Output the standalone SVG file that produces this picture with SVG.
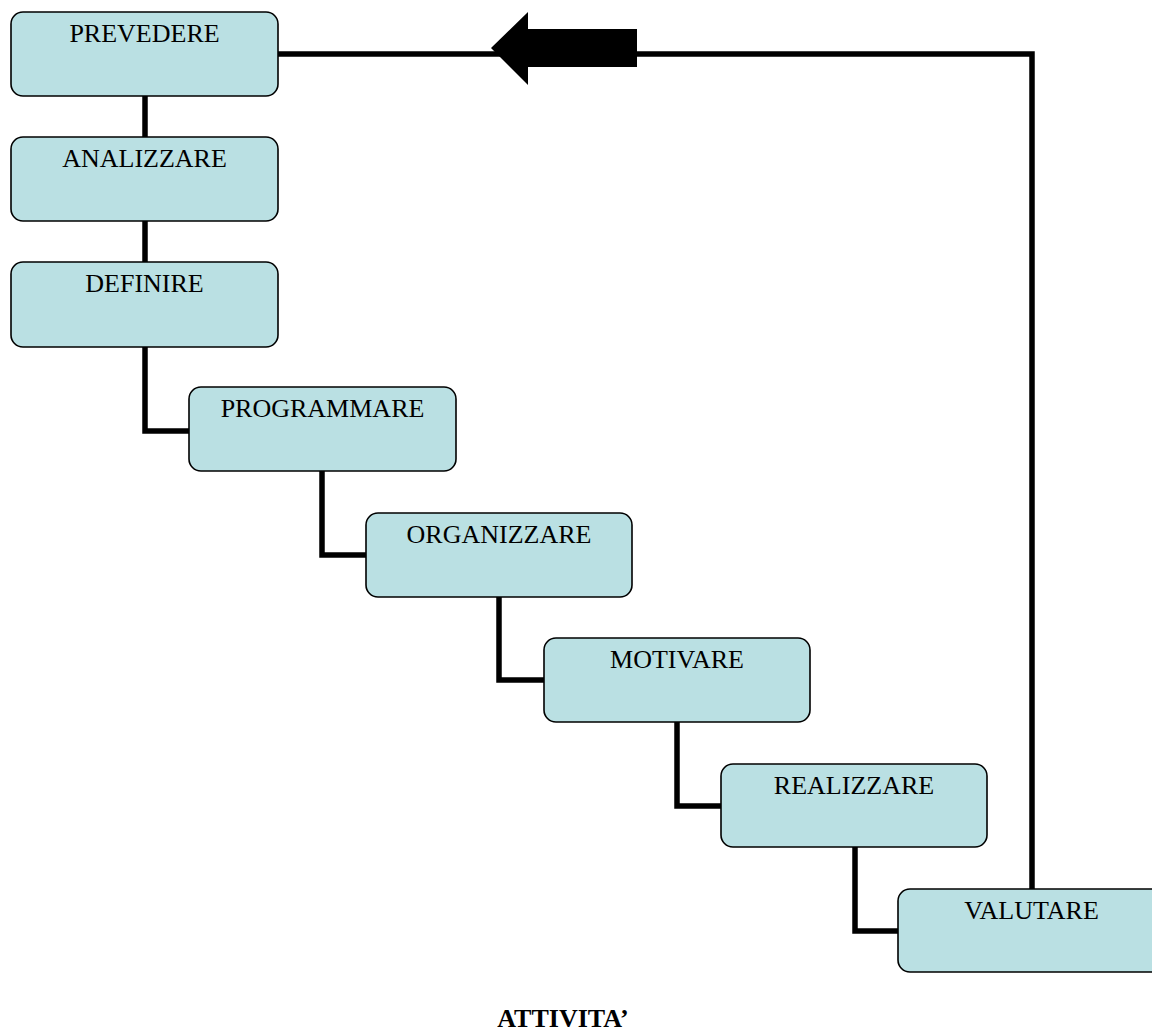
<svg xmlns="http://www.w3.org/2000/svg" width="1152" height="1031" viewBox="0 0 1152 1031">
<style>
.box{fill:#bae0e3;stroke:#000;stroke-width:1.6}
.lbl{font-family:"Liberation Serif","Times New Roman",serif;font-size:26px;fill:#000;text-anchor:middle}
.con{fill:none;stroke:#000;stroke-width:5.5;stroke-linejoin:miter}
.title{font-family:"Liberation Serif","Times New Roman",serif;font-size:26px;font-weight:bold;fill:#000;text-anchor:middle}
</style>
<rect width="1152" height="1031" fill="#fff"/>
<g id="connectors">
<path class="con" d="M145,96 V137"/>
<path class="con" d="M145,221 V262"/>
<path class="con" d="M145,347 V431 H189"/>
<path class="con" d="M322,471 V555 H366"/>
<path class="con" d="M499,597 V680 H544"/>
<path class="con" d="M677,722 V806 H721"/>
<path class="con" d="M855,847 V931 H898"/>
<path class="con" d="M1032,889 V54 H278"/>
<polygon points="491,48 528,12 528,29 637,29 637,67 528,67 528,85" fill="#000"/>
</g>
<g id="n1"><rect class="box" x="11" y="12" width="267" height="84" rx="12"/><text class="lbl" x="144.5" y="42">PREVEDERE</text></g>
<g id="n2"><rect class="box" x="11" y="137" width="267" height="84" rx="12"/><text class="lbl" x="144.5" y="167">ANALIZZARE</text></g>
<g id="n3"><rect class="box" x="11" y="262" width="267" height="85" rx="12"/><text class="lbl" x="144.5" y="292">DEFINIRE</text></g>
<g id="n4"><rect class="box" x="189" y="387" width="267" height="84" rx="12"/><text class="lbl" x="322.5" y="417">PROGRAMMARE</text></g>
<g id="n5"><rect class="box" x="366" y="513" width="266" height="84" rx="12"/><text class="lbl" x="499" y="543">ORGANIZZARE</text></g>
<g id="n6"><rect class="box" x="544" y="638" width="266" height="84" rx="12"/><text class="lbl" x="677" y="668">MOTIVARE</text></g>
<g id="n7"><rect class="box" x="721" y="764" width="266" height="83" rx="12"/><text class="lbl" x="854" y="794">REALIZZARE</text></g>
<g id="n8"><rect class="box" x="898" y="889" width="267" height="83" rx="12"/><text class="lbl" x="1031.5" y="919">VALUTARE</text></g>
<text class="title" x="563" y="1027">ATTIVITA’</text>
</svg>
